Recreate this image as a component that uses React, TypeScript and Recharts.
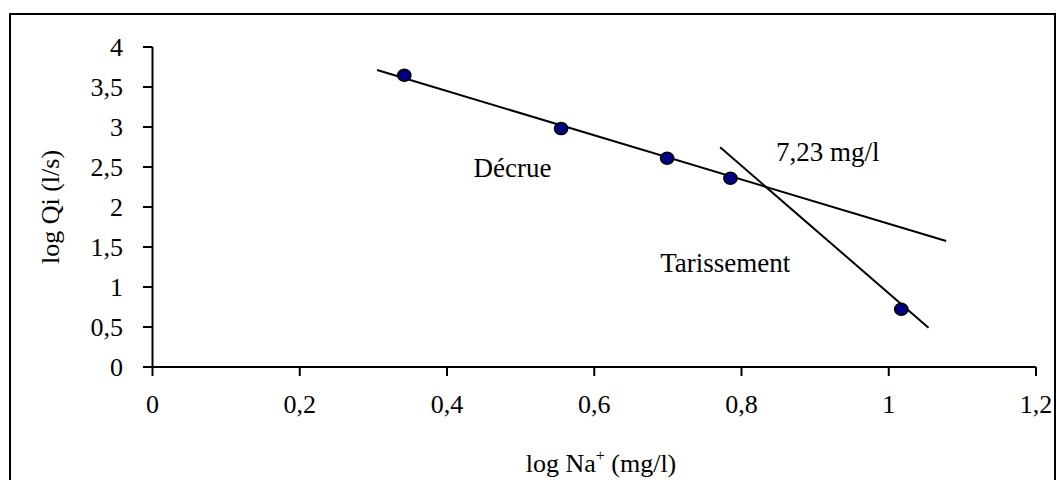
import { ScatterChart, Scatter, XAxis, YAxis, ReferenceDot } from "recharts"

// measured points: log Na+ vs log Qi
const logNa = [0.342, 0.555, 0.699, 0.785, 1.017]
const logQi = [3.646, 2.98, 2.609, 2.359, 0.721]

// fitted lines (end points)
const decrueX = [0.305, 1.078]
const decrueY = [3.712, 1.575]
const tarisX = [0.771, 1.054]
const tarisY = [2.746, 0.491]

const xTicks = [0, 0.2, 0.4, 0.6, 0.8, 1, 1.2]
const yTicks = [0, 0.5, 1, 1.5, 2, 2.5, 3, 3.5, 4]

const notes = [
  { text: "Décrue", x: 0.489, y: 2.5 },
  { text: "Tarissement", x: 0.778, y: 1.31 },
  { text: "7,23 mg/l", x: 0.917, y: 2.69 },
]

const font = "'Liberation Serif', 'Times New Roman', serif"
const fmt = (v: number) => String(v).replace(".", ",")

const points = logNa.map((x, i) => ({ x, y: logQi[i] }))
const decrue = decrueX.map((x, i) => ({ x, y: decrueY[i] }))
const taris = tarisX.map((x, i) => ({ x, y: tarisY[i] }))

const Marker = (props: any) => (
  <ellipse cx={props.cx} cy={props.cy} rx={6.6} ry={6} fill="#000080" stroke="#000" strokeWidth={1.5} />
)

export default function App() {
  const axisStyle = { stroke: "#000", strokeWidth: 2 }
  return (
    <div style={{ position: "absolute", left: 0, top: 0, width: 1057, height: 480, overflow: "hidden", background: "#fff" }}>
      <div
        style={{
          position: "absolute",
          left: 9,
          top: 13,
          width: 1047,
          height: 600,
          border: "2px solid #000",
          boxSizing: "border-box",
        }}
      />
      <div style={{ position: "absolute", left: 0, top: 0 }}>
        <ScatterChart width={1057} height={480} margin={{ top: 47, right: 21, bottom: 0, left: 0 }}>
          <XAxis
            type="number"
            dataKey="x"
            domain={[0, 1.2]}
            ticks={xTicks}
            tickFormatter={fmt}
            height={113}
            axisLine={axisStyle}
            tickLine={axisStyle}
            tickSize={9}
            tickMargin={19}
            tick={{ fill: "#000", fontSize: 26, fontFamily: font }}
            label={{
              content: () => (
                <text x={601} y={472} textAnchor="middle" fontSize={26} fontFamily={font} fill="#000">
                  <tspan>log Na</tspan>
                  <tspan dy={-11} fontSize={16}>+</tspan>
                  <tspan dy={11}> (mg/l)</tspan>
                </text>
              ),
            }}
          />
          <YAxis
            type="number"
            dataKey="y"
            domain={[0, 4]}
            ticks={yTicks}
            tickFormatter={fmt}
            width={152.5}
            axisLine={axisStyle}
            tickLine={axisStyle}
            tickSize={9.5}
            tickMargin={20}
            tick={{ fill: "#000", fontSize: 26, fontFamily: font }}
            label={{
              content: () => (
                <text
                  x={50}
                  y={207}
                  transform="rotate(-90 50 207)"
                  textAnchor="middle"
                  dominantBaseline="central"
                  fontSize={26}
                  fontFamily={font}
                  fill="#000"
                >
                  log Qi (l/s)
                </text>
              ),
            }}
          />
          <Scatter data={decrue} line={{ stroke: "#000", strokeWidth: 2 }} shape={() => <g />} isAnimationActive={false} />
          <Scatter data={taris} line={{ stroke: "#000", strokeWidth: 2 }} shape={() => <g />} isAnimationActive={false} />
          <Scatter data={points} shape={Marker} isAnimationActive={false} />
          {notes.map((n) => (
            <ReferenceDot
              key={n.text}
              x={n.x}
              y={n.y}
              r={0}
              stroke="none"
              fill="none"
              label={{ value: n.text, position: "center", fill: "#000", fontSize: 27, fontFamily: font }}
            />
          ))}
        </ScatterChart>
      </div>
    </div>
  )
}
